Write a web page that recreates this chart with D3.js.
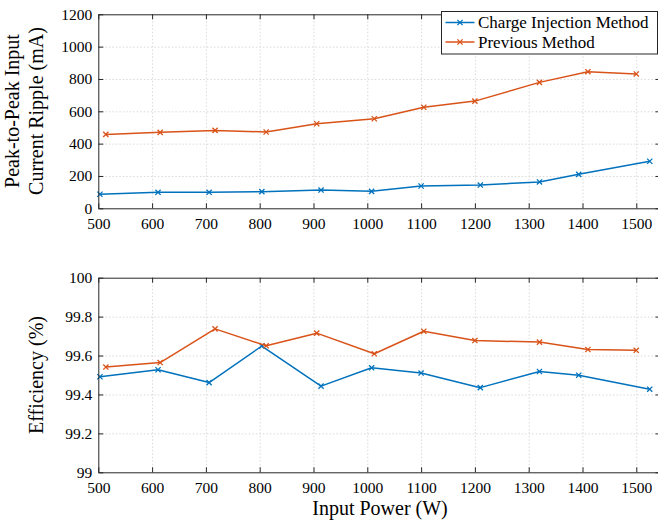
<!DOCTYPE html>
<html>
<head>
<meta charset="utf-8">
<script src="https://cdn.jsdelivr.net/npm/d3@7"></script>
<style>
  body { margin: 0; background: #fff; }
  .grid line { stroke: #d9d9d9; stroke-dasharray: 1.5,2; }
  .grid path { display: none; }
</style>
</head>
<body>
<div id="chart"></div>
<script>
const WIDTH = 658
const HEIGHT = 523
const FONT = 'Liberation Serif'

// input power (W) at each measured point, per series
const ciPower = [503, 611, 706, 804, 914, 1008, 1100, 1210, 1320, 1393, 1525]
const prevPower = [514, 615, 717, 812, 906, 1013, 1105, 1200, 1320, 1410, 1500]

// peak-to-peak input current ripple (mA)
const ciRipple = [87, 99, 99, 103, 113, 105, 138, 144, 163, 210, 291]
const prevRipple = [457, 470, 482, 472, 523, 554, 625, 663, 779, 845, 831]

// efficiency (%)
const ciEff = [99.491, 99.527, 99.461, 99.649, 99.443, 99.537, 99.510, 99.435, 99.518, 99.499, 99.427]
const prevEff = [99.541, 99.564, 99.737, 99.650, 99.715, 99.609, 99.725, 99.677, 99.669, 99.631, 99.627]

const xTicks = [500, 600, 700, 800, 900, 1000, 1100, 1200, 1300, 1400, 1500]
const rippleTicks = [0, 200, 400, 600, 800, 1000, 1200]
const effTicks = [99, 99.2, 99.4, 99.6, 99.8, 100]

const seriesNames = ['Charge Injection Method', 'Previous Method']
const COLORS = ['#0072BD', '#D95319']
const AXIS_COLOR = '#262626'

const svg = d3.select('#chart')
  .append('svg')
  .attr('width', WIDTH)
  .attr('height', HEIGHT)
  .attr('font-family', FONT)
  .style('display', 'block')

const x = d3.scaleLinear()
  .domain([500, 1545])
  .range([98.3, 660.5])

function drawMarker(g, px, py, color) {
  const s = 2.6
  g.append('path')
    .attr('d', `M${px - s},${py - s}L${px + s},${py + s}M${px - s},${py + s}L${px + s},${py - s}`)
    .attr('stroke', color)
    .attr('stroke-width', 1.3)
    .attr('fill', 'none')
}

function drawPanel(opts) {
  const { top, bottom, yDomain, yTicks, yFormat, series } = opts
  const y = d3.scaleLinear().domain(yDomain).range([bottom, top])
  const left = x.range()[0]
  const right = x.range()[1]
  const g = svg.append('g')

  // grid
  g.append('g')
    .attr('class', 'grid')
    .attr('transform', `translate(0,${bottom})`)
    .call(d3.axisBottom(x).tickValues(xTicks.slice(1)).tickSize(-(bottom - top)).tickFormat(''))
  g.append('g')
    .attr('class', 'grid')
    .attr('transform', `translate(${left},0)`)
    .call(d3.axisLeft(y).tickValues(yTicks.slice(1, -1)).tickSize(-(right - left)).tickFormat(''))

  // lines + markers
  series.forEach((s, i) => {
    const pts = s.xs.map((d, j) => [d, s.ys[j]])
    g.append('path')
      .datum(pts)
      .attr('fill', 'none')
      .attr('stroke', COLORS[i])
      .attr('stroke-width', 1.5)
      .attr('stroke-linejoin', 'round')
      .attr('d', d3.line().x(d => x(d[0])).y(d => y(d[1])))
    const mg = g.append('g')
    pts.forEach(p => drawMarker(mg, x(p[0]), y(p[1]), COLORS[i]))
  })

  // axes, ticks pointing inward on all four sides
  const axB = g.append('g')
    .attr('transform', `translate(0,${bottom})`)
    .call(d3.axisBottom(x).tickValues(xTicks).tickSizeInner(-5).tickSizeOuter(0).tickPadding(10).tickFormat(d3.format('d')))
  const axT = g.append('g')
    .attr('transform', `translate(0,${top})`)
    .call(d3.axisTop(x).tickValues(xTicks).tickSizeInner(-5).tickSizeOuter(0).tickFormat(''))
  const axL = g.append('g')
    .attr('transform', `translate(${left},0)`)
    .call(d3.axisLeft(y).tickValues(yTicks).tickSizeInner(-5).tickSizeOuter(0).tickPadding(6).tickFormat(yFormat))
  const axR = g.append('g')
    .attr('transform', `translate(${right},0)`)
    .call(d3.axisRight(y).tickValues(yTicks).tickSizeInner(-5).tickSizeOuter(0).tickFormat(''))

  ;[axB, axT, axL, axR].forEach(a => {
    a.attr('font-family', FONT).attr('font-size', 15.5)
    a.select('.domain').attr('stroke', AXIS_COLOR).attr('stroke-width', 1)
    a.selectAll('.tick line').attr('stroke', AXIS_COLOR)
    a.selectAll('text').attr('fill', '#000')
  })
  return g
}

drawPanel({
  top: 14.3,
  bottom: 208.3,
  yDomain: [0, 1200],
  yTicks: rippleTicks,
  yFormat: d3.format('d'),
  series: [
    { xs: ciPower, ys: ciRipple },
    { xs: prevPower, ys: prevRipple }
  ]
})

drawPanel({
  top: 277.7,
  bottom: 472.3,
  yDomain: [99, 100],
  yTicks: effTicks,
  yFormat: d => (d === 99 || d === 100) ? String(d) : d.toFixed(1),
  series: [
    { xs: ciPower, ys: ciEff },
    { xs: prevPower, ys: prevEff }
  ]
})

// axis labels
svg.append('text')
  .attr('x', 380)
  .attr('y', 515)
  .attr('text-anchor', 'middle')
  .attr('font-size', 20)
  .text('Input Power (W)')

const yLab = svg.append('text')
  .attr('transform', 'translate(19,111) rotate(-90)')
  .attr('text-anchor', 'middle')
  .attr('font-size', 20)
yLab.append('tspan').attr('x', 0).attr('dy', 0).text('Peak-to-Peak Input')
yLab.append('tspan').attr('x', 0).attr('dy', 24).text('Current Ripple (mA)')

svg.append('text')
  .attr('transform', 'translate(43,375) rotate(-90)')
  .attr('text-anchor', 'middle')
  .attr('font-size', 20)
  .text('Efficiency (%)')

// legend
const legend = svg.append('g').attr('transform', 'translate(441.5,11.5)')
legend.append('rect')
  .attr('width', 216)
  .attr('height', 42.5)
  .attr('fill', '#fff')
  .attr('stroke', AXIS_COLOR)
  .attr('stroke-width', 1)
seriesNames.forEach((name, i) => {
  const ly = 11 + i * 19.5
  legend.append('line')
    .attr('x1', 4).attr('x2', 33)
    .attr('y1', ly).attr('y2', ly)
    .attr('stroke', COLORS[i])
    .attr('stroke-width', 1.5)
  drawMarker(legend, 18.5, ly, COLORS[i])
  legend.append('text')
    .attr('x', 36.5)
    .attr('y', ly + 5.5)
    .attr('font-size', 17)
    .text(name)
})
</script>
</body>
</html>
